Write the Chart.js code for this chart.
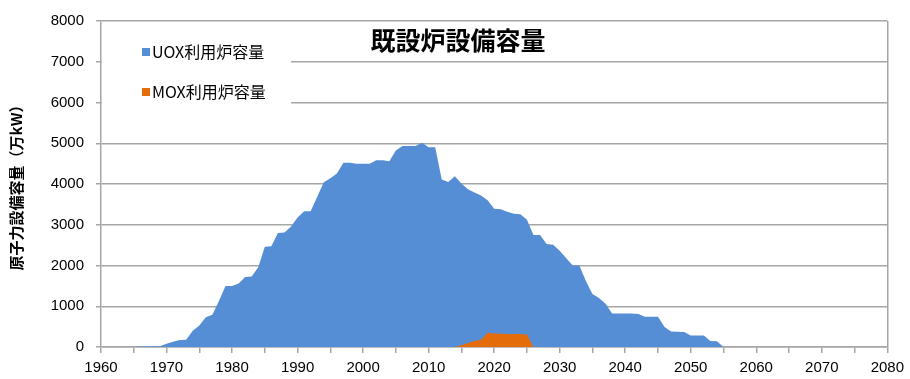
<!DOCTYPE html>
<html lang="ja">
<head>
<meta charset="utf-8">
<title>既設炉設備容量</title>
<script src="https://cdn.jsdelivr.net/npm/chart.js@4/dist/chart.umd.min.js"></script>
<style>
  html, body { margin: 0; padding: 0; background: #fff; }
  #wrap { width: 910px; height: 379px; }
</style>
</head>
<body>
<div id="wrap"><canvas id="c" width="910" height="379"></canvas></div>
<script>
// Text
const chartTitle = '既設炉設備容量';
const axisTitle = '原子力設備容量（万kW）';
const uoxLabel = 'UOX利用炉容量';
const moxLabel = 'MOX利用炉容量';

// Installed capacity of reactors using UOX fuel (万kW), by year
const uoxYears = [
  1965, 1966, 1967, 1968, 1969, 1970, 1971, 1972, 1973, 1974,
  1975, 1976, 1977, 1978, 1979, 1980, 1981, 1982, 1983, 1984,
  1985, 1986, 1987, 1988, 1989, 1990, 1991, 1992, 1993, 1994,
  1995, 1996, 1997, 1998, 1999, 2000, 2001, 2002, 2003, 2004,
  2005, 2006, 2007, 2008, 2009, 2010, 2011, 2012, 2013, 2014,
  2015, 2016, 2017, 2018, 2019, 2020, 2021, 2022, 2023, 2024,
  2025, 2026, 2027, 2028, 2029, 2030, 2031, 2032, 2033, 2034,
  2035, 2036, 2037, 2038, 2039, 2040, 2041, 2042, 2043, 2044,
  2045, 2046, 2047, 2048, 2049, 2050, 2051, 2052, 2053, 2054,
  2055
];
const uoxValues = [
  0, 10, 10, 20, 20, 80, 130, 170, 180, 400,
  530, 730, 790, 1130, 1500, 1500, 1560, 1720, 1730, 1960,
  2460, 2470, 2800, 2810, 2960, 3180, 3330, 3330, 3690, 4040,
  4140, 4260, 4520, 4520, 4500, 4500, 4500, 4580, 4580, 4560,
  4820, 4930, 4930, 4930, 5010, 4900, 4900, 4110, 4050, 4190,
  4010, 3870, 3790, 3720, 3600, 3390, 3380, 3320, 3270, 3260,
  3120, 2750, 2750, 2530, 2510, 2360, 2180, 2000, 2000, 1620,
  1300, 1200, 1060, 820, 820, 820, 820, 810, 740, 740,
  740, 490, 380, 375, 370, 285, 285, 280, 150, 140,
  0
];

// Installed capacity of reactors using MOX fuel (万kW), by year
const moxYears = [2014, 2015, 2016, 2017, 2018, 2019, 2020, 2021, 2022, 2023, 2024, 2025, 2026];
const moxValues = [0, 40, 100, 150, 180, 350, 330, 325, 320, 320, 320, 305, 0];

// Axis ranges
const xMin = 1960, xMax = 2080;
const yMin = 0, yMax = 8000;

const uoxColor = '#558ED5';
const moxColor = '#E46C0A';
const gridColor = '#a6a6a6';
const numFont = '"Liberation Sans", Arial, sans-serif';
const jpFont = '"Noto Sans CJK JP", "Noto Sans", sans-serif';

const toPoints = (xs, ys) => xs.map((x, i) => ({ x: x, y: ys[i] }));

// Title and legend sit inside the plot area, on a white panel
const overlay = {
  id: 'overlay',
  afterDraw(chart) {
    const { ctx, chartArea } = chart;
    ctx.save();
    ctx.fillStyle = '#fff';
    ctx.fillRect(chartArea.left + 1, 32, 189, 78);

    const items = chart.data.datasets.map(d => ({ label: d.label, color: d.backgroundColor }));
    ctx.font = '16px ' + jpFont;
    ctx.textBaseline = 'middle';
    ctx.textAlign = 'left';
    items.forEach((it, i) => {
      const y = 52 + i * 40;
      ctx.fillStyle = it.color;
      ctx.fillRect(142, y - 4, 8, 8);
      ctx.fillStyle = '#000';
      ctx.fillText(it.label, 152, y);
    });

    ctx.font = 'bold 25px ' + jpFont;
    ctx.textAlign = 'center';
    ctx.fillStyle = '#000';
    ctx.fillText(chartTitle, 458, 40);
    ctx.restore();
  }
};

new Chart(document.getElementById('c'), {
  type: 'line',
  data: {
    datasets: [
      {
        label: uoxLabel,
        data: toPoints(uoxYears, uoxValues),
        backgroundColor: uoxColor,
        borderColor: uoxColor,
        borderWidth: 0,
        pointRadius: 0,
        fill: 'origin',
        tension: 0,
        order: 2
      },
      {
        label: moxLabel,
        data: toPoints(moxYears, moxValues),
        backgroundColor: moxColor,
        borderColor: moxColor,
        borderWidth: 0,
        pointRadius: 0,
        fill: 'origin',
        tension: 0,
        order: 1
      }
    ]
  },
  options: {
    responsive: false,
    animation: false,
    layout: { padding: { top: 17, right: 20, left: 0, bottom: 0 } },
    plugins: {
      legend: { display: false },
      title: { display: false },
      tooltip: { enabled: false }
    },
    scales: {
      x: {
        type: 'linear',
        min: xMin,
        max: xMax,
        ticks: {
          stepSize: 5,
          autoSkip: false,
          maxRotation: 0,
          padding: 6,
          color: '#000',
          font: { family: numFont, size: 15 },
          callback: v => (v % 10 === 0 ? String(v) : '')
        },
        grid: {
          drawOnChartArea: true,
          color: c => (c.tick && c.tick.value === xMax ? gridColor : 'rgba(0,0,0,0)'),
          tickColor: gridColor,
          tickLength: 6,
          lineWidth: 1.5
        },
        border: { color: gridColor, width: 1.5 },
        afterFit(s) { s.height = 32; }
      },
      y: {
        min: yMin,
        max: yMax,
        ticks: {
          stepSize: 1000,
          padding: 12,
          color: '#000',
          font: { family: numFont, size: 15 },
          callback: v => String(v)
        },
        grid: {
          color: gridColor,
          tickLength: 5,
          lineWidth: 1.5
        },
        border: { color: gridColor, width: 1.5 },
        title: {
          display: true,
          text: axisTitle,
          color: '#000',
          font: { family: jpFont, size: 15, weight: 'bold' },
          padding: { top: 7, bottom: 0 }
        },
        afterFit(s) { s.width = 101; }
      }
    }
  },
  plugins: [overlay]
});
</script>
</body>
</html>
